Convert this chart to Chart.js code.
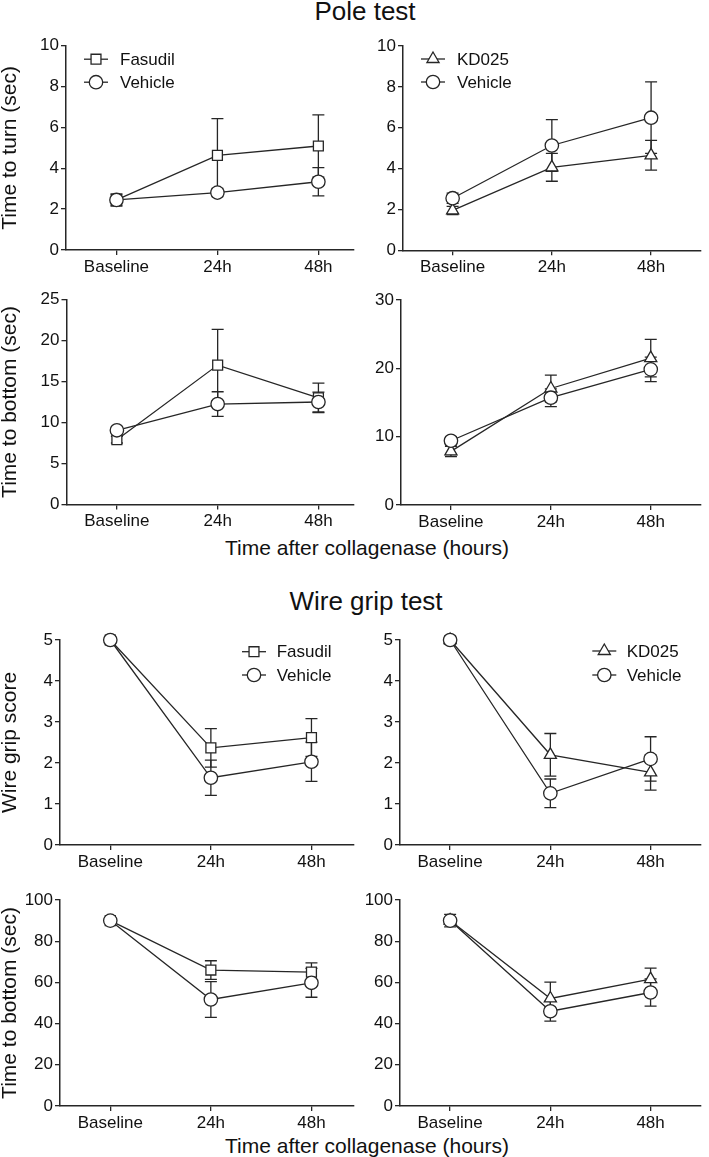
<!DOCTYPE html>
<html lang="en">
<head>
  <meta charset="UTF-8" />
  <title>Pole test and wire grip test</title>
  <style>
    body { margin: 0; background: #fff; }
    #fig {
      position: relative;
      width: 709px;
      height: 1157px;
      font-family: "Liberation Sans", Arial, sans-serif;
      color: #111;
      overflow: hidden;
    }
    #fig canvas { position: absolute; }
    .txt {
      position: absolute;
      white-space: nowrap;
      line-height: 1;
      transform: translateX(-50%);
    }
  </style>
</head>
<body>
  <div id="fig">
    <div class="txt" style="left:365px; top:-2px; font-size:26px;">Pole test</div>
    <div class="txt" style="left:367px; top:537px; font-size:21px;">Time after collagenase (hours)</div>
    <div class="txt" style="left:366px; top:588px; font-size:26px;">Wire grip test</div>
    <div class="txt" style="left:367px; top:1135px; font-size:21px;">Time after collagenase (hours)</div>
  </div>

  <script src="https://cdn.jsdelivr.net/npm/chart.js"></script>
  <script>
    const timeLabels = ['Baseline', '24h', '48h'];

    // pole test - time to turn (sec), mean and SEM
    const turnFasudil = [2.45, 4.63, 5.09];
    const turnFasudilErr = [0.3, 1.8, 1.52];
    const turnVehicleF = [2.45, 2.81, 3.34];
    const turnVehicleFErr = [0.25, 0.2, 0.69];
    const turnKD025 = [1.95, 4.06, 4.65];
    const turnKD025Err = [0.2, 0.68, 0.73];
    const turnVehicleK = [2.55, 5.13, 6.49];
    const turnVehicleKErr = [0.25, 1.27, 1.75];

    // pole test - time to bottom (sec)
    const poleBotFasudil = [7.9, 17.0, 13.0];
    const poleBotFasudilErr = [0.4, 4.35, 1.8];
    const poleBotVehicleF = [9.05, 12.25, 12.5];
    const poleBotVehicleFErr = [0.4, 1.5, 1.2];
    const poleBotKD025 = [7.85, 17.05, 21.5];
    const poleBotKD025Err = [0.75, 1.95, 2.75];
    const poleBotVehicleK = [9.4, 15.7, 19.85];
    const poleBotVehicleKErr = [0.6, 1.3, 1.8];

    // wire grip score
    const gripFasudil = [5, 2.37, 2.62];
    const gripFasudilErr = [0, 0.47, 0.46];
    const gripVehicleF = [5, 1.64, 2.03];
    const gripVehicleFErr = [0, 0.43, 0.48];
    const gripKD025 = [5, 2.2, 1.77];
    const gripKD025Err = [0.1, 0.52, 0.43];
    const gripVehicleK = [5, 1.26, 2.1];
    const gripVehicleKErr = [0, 0.35, 0.54];

    // wire grip - time to bottom (sec)
    const wireBotFasudil = [90, 66, 65];
    const wireBotFasudilErr = [1, 4.5, 4.5];
    const wireBotVehicleF = [90, 51.7, 59.8];
    const wireBotVehicleFErr = [1, 8.7, 7];
    const wireBotKD025 = [90, 52.2, 61.6];
    const wireBotKD025Err = [3, 7.9, 5.3];
    const wireBotVehicleK = [90, 46, 55.1];
    const wireBotVehicleKErr = [1.5, 4.8, 6.6];

    const ink = '#262626';
    const textInk = '#111';
    const fontFamily = '"Liberation Sans", Arial, sans-serif';
    Chart.defaults.font.family = fontFamily;
    Chart.defaults.color = textInk;

    // error bars go under the lines and markers
    const errorBars = {
      id: 'errorBars',
      beforeDatasetsDraw(chart) {
        const { ctx, scales } = chart;
        ctx.save();
        ctx.strokeStyle = ink;
        ctx.lineWidth = 1.3;
        chart.data.datasets.forEach(ds => {
          if (!ds.errors) return;
          ds.data.forEach((p, i) => {
            const e = ds.errors[i];
            if (!e) return;
            const x = scales.x.getPixelForValue(p.x);
            const yHi = scales.y.getPixelForValue(p.y + e);
            const yLo = scales.y.getPixelForValue(p.y - e);
            ctx.beginPath();
            ctx.moveTo(x, yHi); ctx.lineTo(x, yLo);
            ctx.moveTo(x - 6, yHi); ctx.lineTo(x + 6, yHi);
            ctx.moveTo(x - 6, yLo); ctx.lineTo(x + 6, yLo);
            ctx.stroke();
          });
        });
        ctx.restore();
      }
    };

    // prism style legend: short line through the marker
    const sideLegend = {
      id: 'sideLegend',
      afterDatasetsDraw(chart, args, opts) {
        if (!opts.show) return;
        const { ctx, chartArea } = chart;
        ctx.save();
        ctx.font = '17px ' + fontFamily;
        ctx.textBaseline = 'middle';
        chart.data.datasets.forEach((ds, i) => {
          const x = chartArea.left + opts.x;
          const y = chartArea.top + opts.y + i * opts.gap;
          ctx.strokeStyle = ink;
          ctx.lineWidth = 1.3;
          ctx.beginPath();
          ctx.moveTo(x - 12, y); ctx.lineTo(x + 12, y);
          ctx.stroke();
          ctx.fillStyle = '#fff';
          Chart.helpers.drawPoint(ctx, {
            pointStyle: ds.pointStyle, radius: ds.pointRadius, borderWidth: 1.3, rotation: 0
          }, x, y);
          ctx.fillStyle = textInk;
          ctx.fillText(ds.label, chartArea.left + opts.tx, y + 1);
        });
        ctx.restore();
      }
    };

    function series(label, values, errors, style, order) {
      return {
        label: label,
        data: values.map((v, i) => ({ x: i, y: v })),
        errors: errors,
        order: order,
        borderColor: ink,
        borderWidth: 1.3,
        pointStyle: style,
        pointRadius: style === 'circle' ? 6.7 : 7,
        pointBackgroundColor: '#fff',
        pointBorderColor: ink,
        pointBorderWidth: 1.3,
        fill: false,
        tension: 0,
        clip: false
      };
    }

    const panels = [
      { area: { l: 66, t: 45.7, r: 358, b: 250 }, side: 'left', xMax: 2.35, yMax: 10, step: 2,
        yTitle: 'Time to turn (sec)', drug: 'Fasudil', style: 'rect',
        d: turnFasudil, dErr: turnFasudilErr, v: turnVehicleF, vErr: turnVehicleFErr,
        legend: { show: true, x: 30, y: 13.5, gap: 23, tx: 54 } },
      { area: { l: 403, t: 46, r: 709, b: 250.3 }, side: 'right', xMax: 2.5, yMax: 10, step: 2,
        drug: 'KD025', style: 'triangle',
        d: turnKD025, dErr: turnKD025Err, v: turnVehicleK, vErr: turnVehicleKErr,
        legend: { show: true, x: 30, y: 13, gap: 23, tx: 54 } },
      { area: { l: 66.5, t: 299.5, r: 358, b: 504.5 }, side: 'left', xMax: 2.35, yMax: 25, step: 5,
        yTitle: 'Time to bottom (sec)', drug: 'Fasudil', style: 'rect',
        d: poleBotFasudil, dErr: poleBotFasudilErr, v: poleBotVehicleF, vErr: poleBotVehicleFErr },
      { area: { l: 401, t: 300, r: 709, b: 505 }, side: 'right', xMax: 2.5, yMax: 30, step: 10,
        drug: 'KD025', style: 'triangle',
        d: poleBotKD025, dErr: poleBotKD025Err, v: poleBotVehicleK, vErr: poleBotVehicleKErr },
      { area: { l: 60, t: 640, r: 359, b: 845 }, side: 'left', xMax: 2.42, yMax: 5, step: 1,
        yTitle: 'Wire grip score', drug: 'Fasudil', style: 'rect',
        d: gripFasudil, dErr: gripFasudilErr, v: gripVehicleF, vErr: gripVehicleFErr,
        legend: { show: true, x: 194, y: 11.7, gap: 23.3, tx: 216.7 } },
      { area: { l: 400, t: 640, r: 709, b: 845 }, side: 'right', xMax: 2.5, yMax: 5, step: 1,
        drug: 'KD025', style: 'triangle',
        d: gripKD025, dErr: gripKD025Err, v: gripVehicleK, vErr: gripVehicleKErr,
        legend: { show: true, x: 204.3, y: 11, gap: 24, tx: 226.7 } },
      { area: { l: 60, t: 900, r: 359, b: 1106 }, side: 'left', xMax: 2.42, yMax: 100, step: 20,
        yTitle: 'Time to bottom (sec)', drug: 'Fasudil', style: 'rect',
        d: wireBotFasudil, dErr: wireBotFasudilErr, v: wireBotVehicleF, vErr: wireBotVehicleFErr },
      { area: { l: 400, t: 900, r: 709, b: 1106 }, side: 'right', xMax: 2.5, yMax: 100, step: 20,
        drug: 'KD025', style: 'triangle',
        d: wireBotKD025, dErr: wireBotKD025Err, v: wireBotVehicleK, vErr: wireBotVehicleKErr }
    ];

    const fig = document.getElementById('fig');
    const xAxisH = 32;

    panels.forEach(p => {
      const a = p.area;
      const L = p.side === 'left' ? 0 : a.l - 45;
      const W = p.side === 'left' ? 362 : 709 - L;
      const T = Math.floor(a.t - 22);
      const H = Math.ceil(a.b + xAxisH) - T;

      const canvas = document.createElement('canvas');
      canvas.width = W;
      canvas.height = H;
      canvas.style.left = L + 'px';
      canvas.style.top = T + 'px';
      fig.appendChild(canvas);

      new Chart(canvas, {
        type: 'line',
        data: {
          datasets: [
            series(p.drug, p.d, p.dErr, p.style, 1),
            series('Vehicle', p.v, p.vErr, 'circle', 0)
          ]
        },
        plugins: [errorBars, sideLegend],
        options: {
          responsive: false,
          animation: false,
          events: [],
          layout: {
            padding: { left: 0, top: a.t - T, right: L + W - a.r, bottom: T + H - a.b - xAxisH }
          },
          plugins: {
            legend: { display: false },
            tooltip: { enabled: false },
            sideLegend: p.legend || { show: false }
          },
          scales: {
            x: {
              type: 'linear',
              min: -0.5,
              max: p.xMax,
              afterBuildTicks: s => { s.ticks = timeLabels.map((_, i) => ({ value: i })); },
              afterFit: s => { s.height = xAxisH; },
              ticks: {
                callback: v => timeLabels[v],
                font: { size: 17 },
                color: textInk,
                padding: 2,
                maxRotation: 0
              },
              grid: { drawOnChartArea: false, tickLength: 5, color: ink, lineWidth: 1.3 },
              border: { color: ink, width: 1.5 }
            },
            y: {
              min: 0,
              max: p.yMax,
              afterFit: s => { s.width = a.l - L; },
              ticks: { stepSize: p.step, font: { size: 17 }, color: textInk, padding: 2 },
              grid: { drawOnChartArea: false, tickLength: 5, color: ink, lineWidth: 1.3 },
              border: { color: ink, width: 1.5 },
              title: {
                display: !!p.yTitle,
                text: p.yTitle || '',
                font: { size: 21, lineHeight: 1 },
                color: textInk,
                padding: { top: 0, bottom: 0 }
              }
            }
          }
        }
      });
    });
  </script>
</body>
</html>
